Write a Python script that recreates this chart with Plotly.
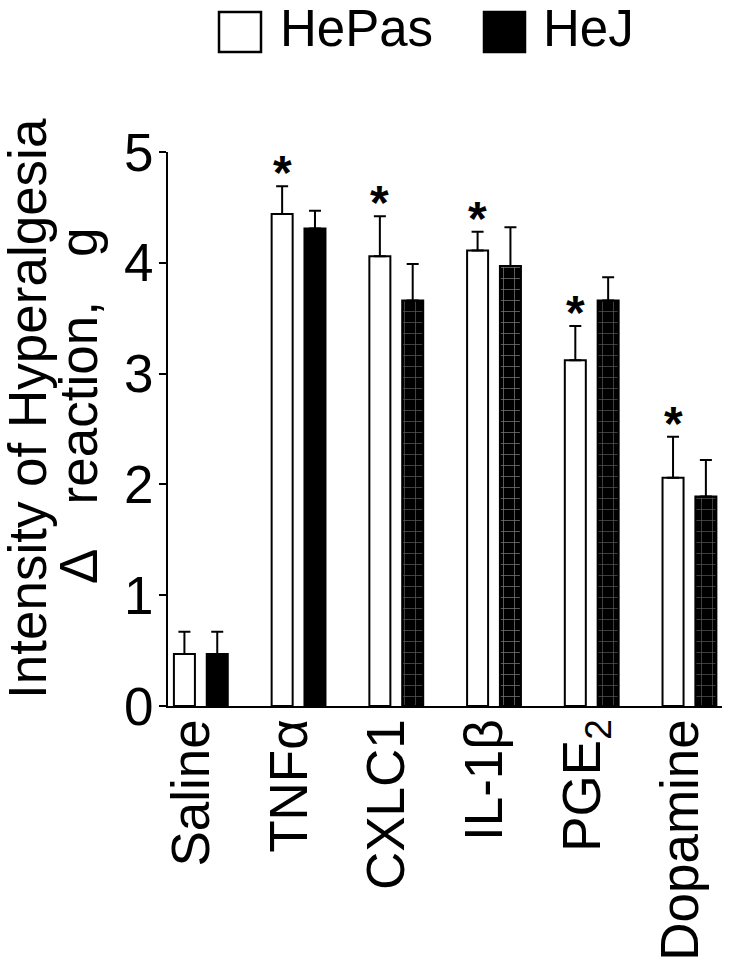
import plotly.graph_objects as go

# ---- data ----
categories = ["Saline", "TNFα", "CXLC1", "IL-1β", "PGE<sub>2</sub>", "Dopamine"]
hepas = [0.47, 4.44, 4.06, 4.11, 3.12, 2.06]
hepas_err = [0.20, 0.25, 0.36, 0.17, 0.31, 0.37]
hej = [0.47, 4.31, 3.66, 3.97, 3.66, 1.89]
hej_err = [0.20, 0.16, 0.33, 0.35, 0.21, 0.33]
stars = ["", "*", "*", "*", "*", "*"]
y_ticks = [0, 1, 2, 3, 4, 5]

FONT = "Liberation Sans, Arial, Helvetica, sans-serif"
W, H = 732, 962
L, R, T, B = 168, 722, 152, 706  # plot area in pixels


def px_x(p):
    return (p - L) / (R - L)


def px_y(p):
    return (B - p) / (B - T)


bar_w = 0.215
half_sep = 0.168
x_range = [-0.336, 5.333]
unit_px = (R - L) / (x_range[1] - x_range[0])

fig = go.Figure()
fig.add_trace(go.Bar(
    name="HePas", x=categories, y=hepas,
    width=bar_w, offset=-half_sep - bar_w / 2,
    marker=dict(color="white", line=dict(color="black", width=2)),
    error_y=dict(type="data", array=hepas_err, arrayminus=[0] * len(hepas),
                 symmetric=False, color="black", thickness=2, width=6),
    showlegend=False, hoverinfo="skip",
))
fig.add_trace(go.Bar(
    name="HeJ", x=categories, y=hej,
    width=bar_w, offset=half_sep - bar_w / 2,
    marker=dict(
        color="black", line=dict(color="black", width=2),
        pattern=dict(
            shape=["", "", "+", "+", "+", "+"],
            fgcolor=["#999999", "#999999", "#b0b0b0", "#f4f4f4", "#a8a8a8", "#a8a8a8"],
            bgcolor="black",
            size=11, solidity=0.13, fillmode="overlay",
        ),
    ),
    error_y=dict(type="data", array=hej_err, arrayminus=[0] * len(hej),
                 symmetric=False, color="black", thickness=2, width=6),
    showlegend=False, hoverinfo="skip",
))

annotations = []
# significance stars
for c, v, e, s in zip(categories, hepas, hepas_err, stars):
    if s:
        annotations.append(dict(
            x=c, y=v + e, xref="x", yref="y", text="<b>" + s + "</b>", showarrow=False,
            xshift=-half_sep * unit_px, yshift=-15,
            yanchor="bottom", xanchor="center",
            font=dict(family=FONT, size=48, color="black"),
        ))

# y-axis title (two lines)
annotations.append(dict(
    x=px_x(27), y=px_y(409), xref="paper", yref="paper",
    text="Intensity of Hyperalgesia", textangle=-90, showarrow=False,
    xanchor="center", yanchor="middle",
    font=dict(family=FONT, size=53, color="black"),
))
annotations.append(dict(
    x=px_x(78), y=px_y(406), xref="paper", yref="paper",
    text="Δ&nbsp;&nbsp;&nbsp;reaction,&nbsp;&nbsp;&nbsp;g", textangle=-90, showarrow=False,
    xanchor="center", yanchor="middle",
    font=dict(family=FONT, size=53, color="black"),
))
# legend text
annotations.append(dict(
    x=px_x(278), y=px_y(29), xref="paper", yref="paper", text="HePas",
    showarrow=False, xanchor="left", yanchor="middle",
    font=dict(family=FONT, size=51, color="black"),
))
annotations.append(dict(
    x=px_x(541), y=px_y(29), xref="paper", yref="paper", text="HeJ",
    showarrow=False, xanchor="left", yanchor="middle",
    font=dict(family=FONT, size=51, color="black"),
))

shapes = [
    dict(type="rect", xref="paper", yref="paper",
         x0=px_x(219), x1=px_x(261), y0=px_y(52), y1=px_y(12),
         line=dict(color="black", width=2.5), fillcolor="white"),
    dict(type="rect", xref="paper", yref="paper",
         x0=px_x(484), x1=px_x(525), y0=px_y(52), y1=px_y(12),
         line=dict(color="black", width=2.5), fillcolor="black"),
    # x-axis baseline extension left of the y axis
    dict(type="line", xref="paper", yref="y",
         x0=px_x(160), x1=px_x(168), y0=0, y1=0,
         line=dict(color="black", width=2)),
]

fig.update_layout(
    width=W, height=H,
    margin=dict(l=L, r=W - R, t=T, b=H - B, pad=0, autoexpand=False),
    plot_bgcolor="white", paper_bgcolor="white",
    font=dict(family=FONT, color="black"),
    annotations=annotations, shapes=shapes,
    barmode="group", hovermode=False,
)
fig.update_xaxes(
    type="category", range=x_range, automargin=False,
    showline=True, linecolor="black", linewidth=2,
    ticks="", tickangle=-90, tickfont=dict(family=FONT, size=53, color="black"),
    ticklabelstandoff=-10, ticklabelshift=-9,
    showgrid=False, zeroline=False, fixedrange=True,
)
fig.update_yaxes(
    range=[0, 5], tickvals=y_ticks, automargin=False,
    showline=True, linecolor="black", linewidth=2,
    ticks="outside", ticklen=7, tickwidth=2, tickcolor="black",
    tickfont=dict(family=FONT, size=53, color="black"),
    ticklabelstandoff=-5,
    showgrid=False, zeroline=False, fixedrange=True,
)

fig.write_html(
    "out.html",
    config={"displayModeBar": False, "staticPlot": True},
    post_script="document.body.style.margin='0';document.body.style.overflow='hidden';",
)
